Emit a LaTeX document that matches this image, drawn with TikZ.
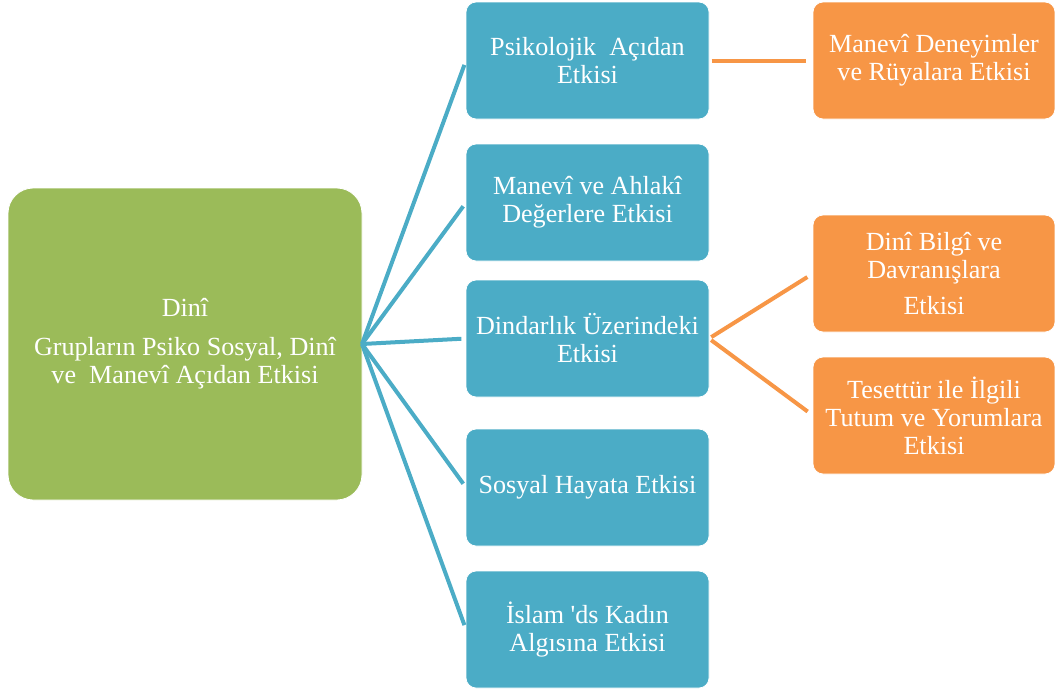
\documentclass[tikz,border=0pt]{standalone}
\usepackage{fontspec}
\setmainfont{Liberation Serif}

\definecolor{oliveGreen}{HTML}{9BBB59}
\definecolor{seaBlue}{HTML}{4BACC6}
\definecolor{softOrange}{HTML}{F79646}

\tikzset{
    box/.style={draw=white, line width=0.6pt, text=white, align=center, inner sep=2pt, outer sep=0pt,
        font=\fontsize{19.6}{21}\selectfont},
    rootbox/.style={box, fill=oliveGreen, rounded corners=19pt, minimum width=265.5pt, minimum height=234pt},
    effectbox/.style={box, fill=seaBlue, rounded corners=7.5pt, minimum width=182.25pt, minimum height=87.75pt},
    detailbox/.style={box, fill=softOrange, rounded corners=7.5pt, minimum width=181.5pt, minimum height=87.75pt},
    blueLink/.style={seaBlue, line width=3pt, shorten >=3.5pt},
    orangeLink/.style={softOrange, line width=3pt, shorten <=2pt, shorten >=5pt}
}

\begin{document}
\begin{tikzpicture}[x=0.75pt, y=-0.75pt]
    \useasboundingbox (0,0) rectangle (1055,693);

    \node[rootbox] (root) at (185,344) {Dinî\\[8pt]Grupların Psiko Sosyal, Dinî\\ve~~Manevî Açıdan Etkisi};

    \node[effectbox] (psiko) at (587.5,60.5) {Psikolojik~~Açıdan\\Etkisi};
    \node[effectbox] (ahlak) at (587.5,202.5) {Manevî ve Ahlakî\\Değerlere Etkisi};
    \node[effectbox] (dindar) at (587.5,338.5) {Dindarlık Üzerindeki\\Etkisi};
    \node[effectbox] (sosyal) at (587.5,487.5) {Sosyal Hayata Etkisi};
    \node[effectbox] (kadin) at (587.5,629.5) {İslam \textquotesingle ds Kadın\\Algısına Etkisi};

    \node[detailbox] (ruya) at (934,60.5) {Manevî Deneyimler\\ve Rüyalara Etkisi};
    \node[detailbox] (bilgi) at (934,273.5) {Dinî Bilgî ve\\Davranışlara\\[6pt]Etkisi};
    \node[detailbox] (tesettur) at (934,415.5) {Tesettür ile İlgili\\Tutum ve Yorumlara\\Etkisi};

    \foreach \n in {psiko, ahlak, dindar, sosyal, kadin}
        \draw[blueLink] (root.east) -- (\n.west);

    \draw[orangeLink] (psiko.east) -- (ruya.west);
    \draw[orangeLink] (dindar.east) -- (bilgi.west);
    \draw[orangeLink] (dindar.east) -- (tesettur.west);
\end{tikzpicture}
\end{document}
